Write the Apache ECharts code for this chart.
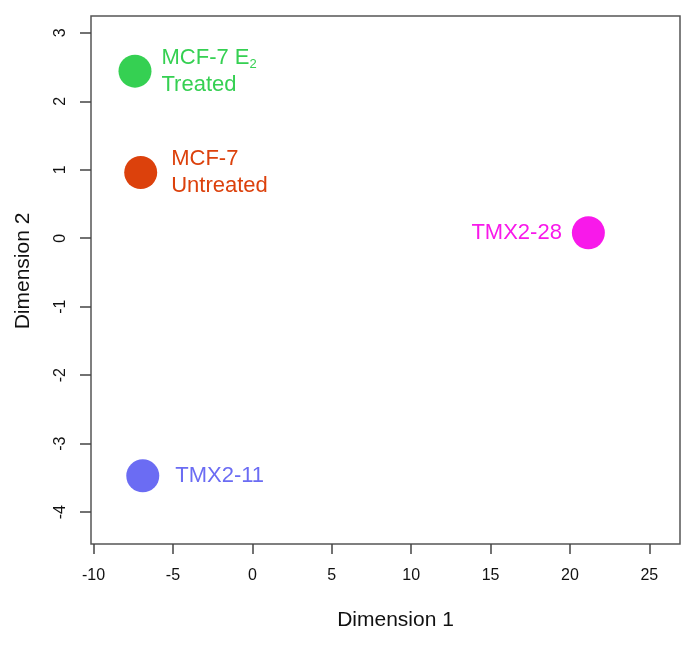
<!DOCTYPE html>
<html>
<head>
<meta charset="utf-8">
<script src="https://cdn.jsdelivr.net/npm/echarts@6/dist/echarts.min.js"></script>
<style>html,body{margin:0;padding:0;background:#fff}#c{width:700px;height:649px}</style>
</head>
<body>
<div id="c"></div>
<script>
// Data
var sampleNames = ['MCF-7 E2 Treated', 'MCF-7 Untreated', 'TMX2-28', 'TMX2-11'];
var dim1 = [-7.39, -7.03, 21.16, -6.90];
var dim2 = [2.44, 0.96, 0.08, -3.47];
var sampleColors = ['#35d052', '#dc410c', '#f819ea', '#6b6cf3'];
var labelTexts = ['MCF-7 E{sub|2}\nTreated', 'MCF-7\nUntreated', 'TMX2-28', 'TMX2-11'];
var xTicks = [-10, -5, 0, 5, 10, 15, 20, 25];
var yTicks = [-4, -3, -2, -1, 0, 1, 2, 3];

var FONT = '"Liberation Sans", Arial, Helvetica, sans-serif';
var labelPos = ['right', 'right', 'left', 'right'];
var labelDist = [10, 14, 10, 16];

var series = sampleNames.map(function (n, i) {
  return {
    name: n,
    type: 'scatter',
    symbol: 'circle',
    symbolSize: 33,
    itemStyle: { color: sampleColors[i], opacity: 1 },
    data: [[dim1[i], dim2[i]]],
    label: {
      show: true,
      position: labelPos[i],
      distance: labelDist[i],
      formatter: labelTexts[i],
      color: sampleColors[i],
      fontFamily: FONT,
      fontSize: 22,
      lineHeight: 27,
      align: labelPos[i] === 'left' ? 'right' : 'left',
      rich: {
        sub: { fontSize: 13, color: sampleColors[i], fontFamily: FONT, padding: [14, 0, 0, 0], lineHeight: 27 }
      }
    },
    emphasis: { disabled: true }
  };
});

var chart = echarts.init(document.getElementById('c'), null, { renderer: 'canvas' });
chart.setOption({
  animation: false,
  backgroundColor: '#fff',
  grid: { left: 91, right: 20, top: 16, bottom: 105, show: true, borderColor: '#555', borderWidth: 1.5, backgroundColor: 'transparent' },
  xAxis: {
    type: 'value', min: -10.16, max: 26.93,
    name: 'Dimension 1', nameLocation: 'middle', nameGap: 66,
    nameTextStyle: { fontFamily: FONT, fontSize: 21, color: '#111', padding: [0, 0, 0, 20] },
    axisLine: { show: false, onZero: false },
    axisTick: { show: true, length: 10, inside: false, customValues: xTicks, lineStyle: { color: '#444', width: 1.5 } },
    axisLabel: { customValues: xTicks, fontFamily: FONT, fontSize: 16, color: '#111', margin: 24, showMinLabel: true, showMaxLabel: true },
    splitLine: { show: false }
  },
  yAxis: {
    type: 'value', min: -4.465, max: 3.245,
    name: 'Dimension 2', nameLocation: 'middle', nameGap: 57, nameRotate: 90,
    nameTextStyle: { fontFamily: FONT, fontSize: 21, color: '#111', padding: [0, 0, 0, 18] },
    axisLine: { show: false, onZero: false },
    axisTick: { show: true, length: 11, inside: false, customValues: yTicks, lineStyle: { color: '#444', width: 1.5 } },
    axisLabel: { customValues: yTicks, rotate: 90, fontFamily: FONT, fontSize: 16, color: '#111', margin: 22, showMinLabel: true, showMaxLabel: true },
    splitLine: { show: false }
  },
  series: series
});
</script>
</body>
</html>
